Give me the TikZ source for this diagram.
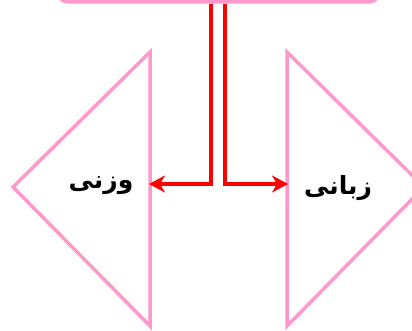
\documentclass[tikz,border=0pt]{standalone}
\usepackage{fontspec}
\newfontfamily\arabicfont[Script=Arabic]{DejaVu Sans}
\TeXXeTstate=1
\usetikzlibrary{arrows.meta}
\definecolor{pinkc}{RGB}{255,153,204}
\tikzset{
  pinkline/.style={draw=pinkc, line width=3.5pt},
  redarrow/.style={draw=red, line width=3.5pt, -{Stealth[length=16pt,width=17pt,inset=5pt]}},
  lbl/.style={font=\arabicfont\bfseries\fontsize{25}{30}\selectfont, text=black}
}
\begin{document}
\begin{tikzpicture}[x=1pt,y=-1pt]
\useasboundingbox (0,0) rectangle (412,330);
\clip (0,0) rectangle (412,330);
% top box
\node[pinkline, fill=gray!25, rounded corners=10pt,
      minimum width=322pt, minimum height=40pt, anchor=south] (top) at (218.5,3.5) {};
% triangles
\draw[pinkline] (150,52) -- (150,326) -- (13,187) -- cycle;
\draw[pinkline] (287,52) -- (287,326) -- (424,187) -- cycle;
\coordinate (ltip) at (149,184);
\coordinate (rtip) at (288,184);
\coordinate (ls) at (211,3.5);
\coordinate (rs) at (225,3.5);
\node[lbl] (wazni) at (101,186) {\beginR وزنی\endR};
\node[lbl] (zabani) at (338,188) {\beginR زبانی\endR};
\draw[redarrow] (ls) |- (ltip);
\draw[redarrow] (rs) |- (rtip);
\end{tikzpicture}
\end{document}
